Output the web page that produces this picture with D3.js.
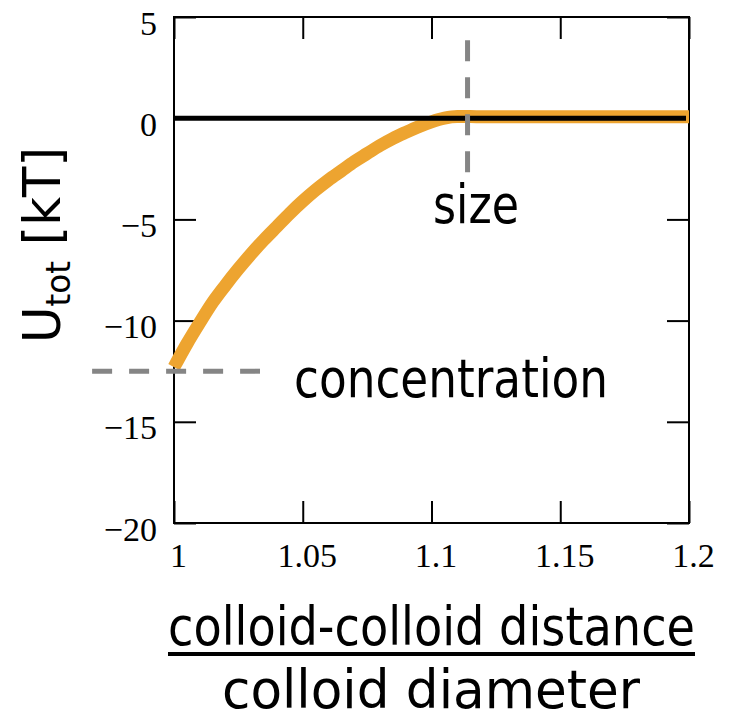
<!DOCTYPE html>
<html>
<head>
<meta charset="utf-8">
<script src="https://cdn.jsdelivr.net/npm/d3@7"></script>
<style>
  html, body { margin: 0; padding: 0; background: #fff; }
  svg { display: block; }
</style>
</head>
<body>
<svg id="chart" width="731" height="721"></svg>
<script>
// Reduced colloid-colloid distance (r / diameter)
const distance = [1.000, 1.005, 1.010, 1.015, 1.020, 1.025, 1.030, 1.035, 1.040, 1.045,
                  1.050, 1.055, 1.060, 1.065, 1.070, 1.075, 1.080, 1.085, 1.090, 1.095,
                  1.100, 1.105, 1.110, 1.115, 1.120, 1.140, 1.160, 1.180, 1.200];
// Total interaction potential in kT
const potential = [-12.3, -11.15, -10.1, -9.1, -8.25, -7.45, -6.7, -6.0, -5.35, -4.7,
                   -4.1, -3.55, -3.05, -2.6, -2.15, -1.75, -1.35, -1.0, -0.7, -0.42,
                   -0.18, 0.0, 0.08, 0.08, 0.07, 0.07, 0.07, 0.07, 0.07];

const xTicks = [1, 1.05, 1.1, 1.15, 1.2];
const xTickLabels = ["1", "1.05", "1.1", "1.15", "1.2"];
const yTicks = [5, 0, -5, -10, -15, -20];
const yTickLabels = ["5", "0", "\u22125", "\u221210", "\u221215", "\u221220"];

// Annotation guides: well depth (concentration) and range (size)
const wellDepth = -12.5;
const wellGuideX = [0.9682, 1.0334];
const rangeX = 1.114;
const rangeGuideY = [3.85, -2.75];

(function draw() {
  const svg = d3.select("#chart");
  const pLeft = 174, pRight = 689, pTop = 17, pBottom = 523;

  const x = d3.scaleLinear().domain([1, 1.2]).range([pLeft, pRight]);
  const y = d3.scaleLinear().domain([-20, 5]).range([pBottom, pTop]);

  const tickLen = 22;
  const serif = "'Liberation Serif', 'Times New Roman', serif";
  const sans = "'DejaVu Sans', Verdana, sans-serif";

  function styleAxis(g) {
    g.select(".domain").remove();
    g.selectAll(".tick line").attr("stroke", "#000").attr("stroke-width", 2);
  }

  // Left axis with labels
  svg.append("g")
    .attr("transform", `translate(${pLeft},0)`)
    .call(d3.axisLeft(y).tickValues(yTicks).tickSizeInner(-tickLen).tickSizeOuter(0)
      .tickFormat((d, i) => yTickLabels[i]))
    .call(styleAxis)
    .call(g => g.selectAll(".tick text")
      .attr("x", -17).attr("dy", null).attr("y", 17)
      .attr("font-family", serif).attr("font-size", 34).attr("fill", "#000"));

  // Right axis (ticks only)
  svg.append("g")
    .attr("transform", `translate(${pRight},0)`)
    .call(d3.axisRight(y).tickValues(yTicks).tickSizeInner(-tickLen).tickSizeOuter(0).tickFormat(""))
    .call(styleAxis);

  // Bottom axis with labels
  svg.append("g")
    .attr("transform", `translate(0,${pBottom})`)
    .call(d3.axisBottom(x).tickValues(xTicks).tickSizeInner(-tickLen).tickSizeOuter(0)
      .tickFormat((d, i) => xTickLabels[i]))
    .call(styleAxis)
    .call(g => g.selectAll(".tick text")
      .attr("y", 44).attr("dy", null).attr("x", 4)
      .attr("font-family", serif).attr("font-size", 34).attr("fill", "#000"));

  // Top axis (ticks only)
  svg.append("g")
    .attr("transform", `translate(0,${pTop})`)
    .call(d3.axisTop(x).tickValues(xTicks).tickSizeInner(-tickLen).tickSizeOuter(0).tickFormat(""))
    .call(styleAxis);

  // Plot frame
  svg.append("rect")
    .attr("x", pLeft).attr("y", pTop)
    .attr("width", pRight - pLeft).attr("height", pBottom - pTop)
    .attr("fill", "none").attr("stroke", "#000").attr("stroke-width", 2);

  // Potential curve
  const line = d3.line()
    .x((d, i) => x(distance[i]))
    .y((d, i) => y(potential[i]))
    .curve(d3.curveMonotoneX);

  svg.append("path")
    .datum(potential)
    .attr("d", line)
    .attr("fill", "none")
    .attr("stroke", "#eda430")
    .attr("stroke-width", 13)
    .attr("stroke-linejoin", "round");

  // Zero reference line
  svg.append("line")
    .attr("x1", x(1)).attr("x2", x(1.2) - 3)
    .attr("y1", y(0)).attr("y2", y(0))
    .attr("stroke", "#000").attr("stroke-width", 5);

  // Dashed guides
  svg.append("line")
    .attr("x1", x(wellGuideX[0])).attr("x2", x(wellGuideX[1]))
    .attr("y1", y(wellDepth)).attr("y2", y(wellDepth))
    .attr("stroke", "#858585").attr("stroke-width", 5)
    .attr("stroke-dasharray", "20,17");

  svg.append("line")
    .attr("x1", x(rangeX)).attr("x2", x(rangeX))
    .attr("y1", y(rangeGuideY[0])).attr("y2", y(rangeGuideY[1]))
    .attr("stroke", "#858585").attr("stroke-width", 5)
    .attr("stroke-dasharray", "21,16");

  // Annotations
  svg.append("text")
    .attr("x", 433).attr("y", 223)
    .attr("font-family", sans).attr("font-size", 54)
    .attr("textLength", 86).attr("lengthAdjust", "spacingAndGlyphs")
    .text("size");

  svg.append("text")
    .attr("x", 294).attr("y", 397)
    .attr("font-family", sans).attr("font-size", 54)
    .attr("textLength", 314).attr("lengthAdjust", "spacingAndGlyphs")
    .text("concentration");

  // Y-axis title
  const yt = svg.append("text")
    .attr("transform", "translate(60,343) rotate(-90)")
    .attr("font-family", sans).attr("font-size", 52)
    .attr("textLength", 196).attr("lengthAdjust", "spacingAndGlyphs");
  yt.append("tspan").text("U");
  yt.append("tspan").attr("font-size", 34).attr("dy", 10).text("tot");
  yt.append("tspan").attr("dy", -10).text(" [kT]");

  // X-axis title as a fraction
  svg.append("text")
    .attr("x", 168).attr("y", 645)
    .attr("font-family", sans).attr("font-size", 53)
    .attr("textLength", 527).attr("lengthAdjust", "spacingAndGlyphs")
    .text("colloid-colloid distance");

  svg.append("line")
    .attr("x1", 168).attr("x2", 695)
    .attr("y1", 654).attr("y2", 654)
    .attr("stroke", "#000").attr("stroke-width", 4);

  svg.append("text")
    .attr("x", 222).attr("y", 708)
    .attr("font-family", sans).attr("font-size", 53)
    .attr("textLength", 418).attr("lengthAdjust", "spacingAndGlyphs")
    .text("colloid diameter");
})();
</script>
</body>
</html>
